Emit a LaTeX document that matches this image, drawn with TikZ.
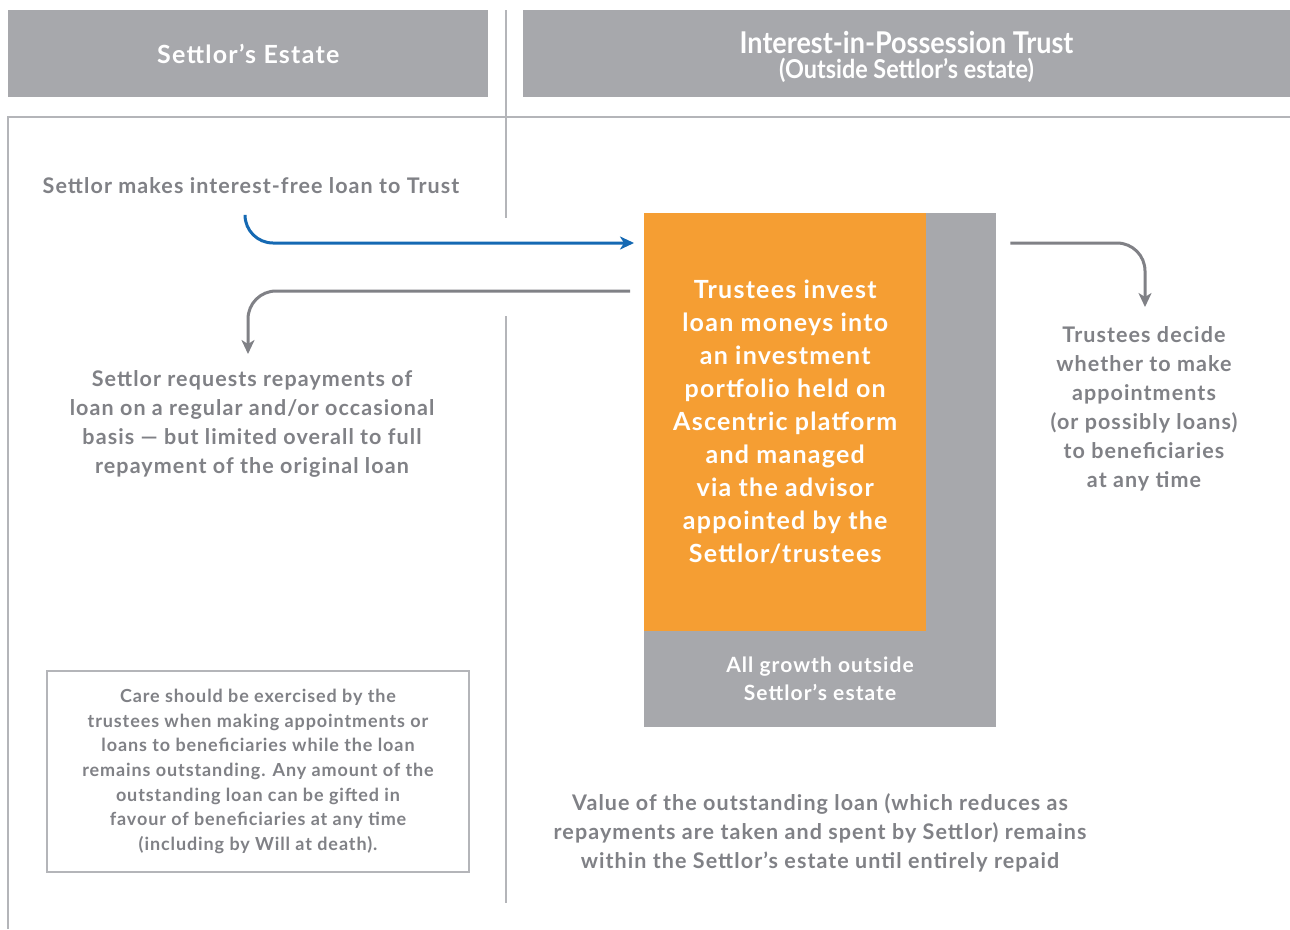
\documentclass[tikz,border=0pt]{standalone}
\usepackage{fontspec}
\setmainfont{Lato}[LetterSpace=5]
\newfontfamily\titlefont[FakeStretch=0.9,Ligatures=TeX]{Lato}
\usetikzlibrary{arrows.meta}

\definecolor{hdrgray}{HTML}{A7A8AC}
\definecolor{txtgray}{HTML}{808186}
\definecolor{rulegray}{HTML}{B4B5B9}
\definecolor{arrgray}{HTML}{808186}
\definecolor{loanblue}{HTML}{1569B3}
\definecolor{investorange}{HTML}{F59E33}

\tikzset{
  hdr/.style={fill=hdrgray, text=white, font=\bfseries, align=center,
    anchor=north west, inner sep=0},
  frame/.style={draw=rulegray, line width=2pt},
  bodytext/.style={text=txtgray, font=\bfseries\fontsize{21.5}{29}\selectfont,
    align=center, inner sep=0},
  flow/.style={line width=3pt, rounded corners=28pt,
    -{Stealth[length=14pt,width=13pt,inset=4pt]}},
}

\begin{document}
\begin{tikzpicture}[x=1pt,y=-1pt]
\useasboundingbox (0,0) rectangle (1290,929);
\fill[white] (0,0) rectangle (1290,929);

% column headers
\node[hdr, minimum width=480pt, minimum height=87pt] (estate) at (8,10)
  {\fontsize{25}{30}\selectfont Settlor’s Estate};
\node[hdr, minimum width=767pt, minimum height=87pt] (trust) at (523,10) {};
\node[text=white, font=\bfseries, align=center, inner sep=0] (trusttitle)
  at (906.5,57)
  {\titlefont\fontsize{30}{27}\selectfont Interest-in-Possession Trust\\[4pt]
   \titlefont\fontsize{26}{24}\selectfont (Outside Settlor’s estate)};

% frame and column divider
\draw[frame] (8,929) -- (8,117) -- (1290,117);
\draw[frame] (506,10) -- (506,218);
\draw[frame] (506,316) -- (506,903);

% trust fund: growth area with the invested portfolio on top
\node[fill=hdrgray, minimum width=352pt, minimum height=514pt, inner sep=0,
  anchor=north west] (growth) at (644,213) {};
\node[fill=investorange, minimum width=282pt, minimum height=418pt, inner sep=0,
  anchor=north west, text=white, align=center,
  font=\bfseries\fontsize{25}{33}\selectfont] (invest) at (644,213)
  {Trustees invest\\loan moneys into\\an investment\\portfolio held on\\
   Ascentric platform\\and managed\\via the advisor\\appointed by the\\
   Settlor/trustees};
\node[text=white, align=center, inner sep=0,
  font=\bfseries\fontsize{21}{28}\selectfont] (growthtext) at (820,679)
  {All growth outside\\Settlor’s estate};

% texts
\node[bodytext] (loan) at (251,186) {Settlor makes interest-free loan to Trust};
\node[bodytext] (repay) at (252,424)
  {Settlor requests repayments of\\loan on a regular and/or occasional\\
   basis --- but limited overall to full\\repayment of the original loan};
\node[bodytext] (decide) at (1144,408.5)
  {Trustees decide\\whether to make\\appointments\\(or possibly loans)\\
   to beneficiaries\\at any time};
\node[bodytext] (value) at (820,832.5)
  {Value of the outstanding loan (which reduces as\\
   repayments are taken and spent by Settlor) remains\\
   within the Settlor’s estate until entirely repaid};

% caution box
\node[draw=rulegray, line width=2pt, minimum width=422pt, minimum height=201pt,
  inner sep=0, text=txtgray, align=center,
  font=\bfseries\fontsize{18}{24.7}\selectfont] (care) at (258,771.5)
  {Care should be exercised by the\\trustees when making appointments or\\
   loans to beneficiaries while the loan\\remains outstanding. Any amount of the\\
   outstanding loan can be gifted in\\favour of beneficiaries at any time\\
   (including by Will at death).};

% flows
\coordinate (b0) at ([shift={(-6,22)}]loan.south);
\coordinate (b1) at ([shift={(-10,30)}]invest.north west);
\draw[flow, draw=loanblue, color=loanblue] (b0) |- (b1);

\coordinate (g0) at ([shift={(-14,78)}]invest.north west);
\coordinate (g1) at (248,354);
\draw[flow, draw=arrgray, color=arrgray] (g0) -| (g1);

\coordinate (r0) at ([shift={(14,30)}]growth.north east);
\coordinate (r1) at (1145,307);
\draw[flow, draw=arrgray, color=arrgray] (r0) -| (r1);
\end{tikzpicture}
\end{document}
